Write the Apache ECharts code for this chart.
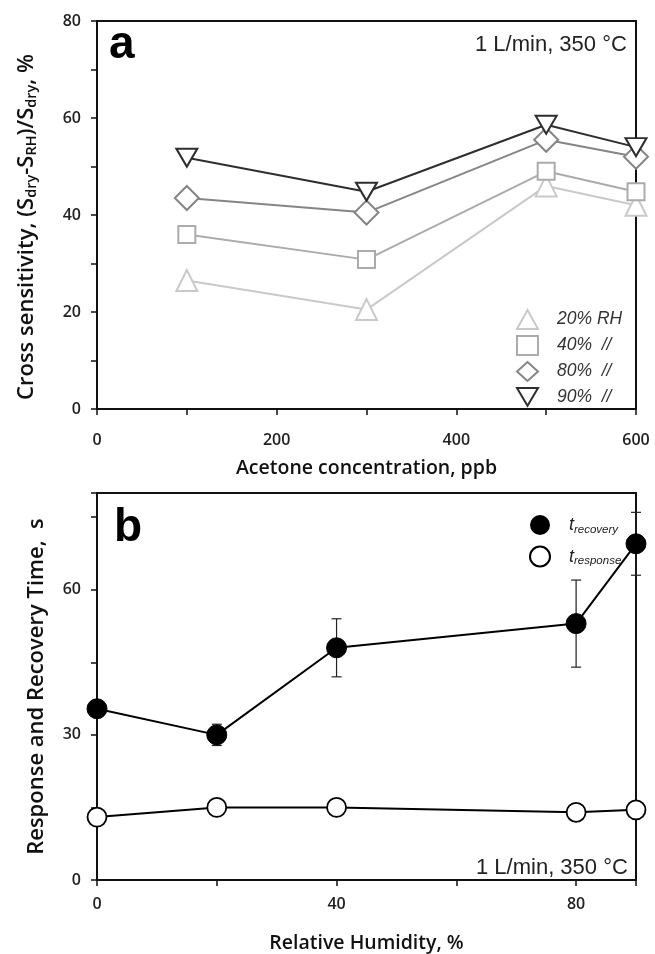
<!DOCTYPE html>
<html>
<head>
<meta charset="utf-8">
<script src="https://cdn.jsdelivr.net/npm/echarts@6/dist/echarts.min.js"></script>
<style>
  html, body { margin: 0; padding: 0; background: #fff; }
  #main { width: 655px; height: 954px; }
</style>
</head>
<body>
<div id="main"></div>
<script>
// panel a: cross sensitivity vs acetone
var acetone = [100, 300, 500, 600];
var rh20 = [26.5, 20.5, 46, 42];
var rh40 = [36, 30.8, 49, 44.8];
var rh80 = [43.5, 40.5, 55.5, 52];
var rh90 = [51.8, 44.8, 58.6, 54];

// panel b: response / recovery time vs humidity
var humidity = [0, 20, 40, 80, 90];
var tRecovery = [35.4, 30, 48, 53, 69.5];
var tRecoveryErr = [0, 2.2, 6, 9, 6.5];
var tResponse = [13, 15, 15, 14, 14.5];

function pairs(xs, ys) {
  return xs.map(function (x, i) { return [x, ys[i]]; });
}

var downTri = 'path://M0,0 L20,0 L10,17 Z';

var chart = echarts.init(document.getElementById('main'));

var labelFont = { fontFamily: 'Open Sans', fontWeight: 600, fontSize: 16, color: '#222' };
var nameFont = { fontFamily: 'Open Sans', fontWeight: 600, fontSize: 19.5, color: '#111' };
var yNameFont = { fontFamily: 'Open Sans', fontWeight: 600, fontSize: 22, color: '#111' };

var axisCommon = {
  axisLine: { lineStyle: { color: '#111', width: 2 } },
  axisTick: { lineStyle: { color: '#111', width: 1.5 }, length: 6 },
  splitLine: { show: false }
};

function grayLine(name, data, color, symbol, size) {
  return {
    name: name,
    type: 'line',
    xAxisIndex: 0,
    yAxisIndex: 0,
    data: data,
    symbol: symbol,
    symbolSize: size,
    lineStyle: { color: color, width: 2 },
    itemStyle: { color: '#fff', borderColor: color, borderWidth: 2 },
    z: 3
  };
}

var bigLetter = { fontFamily: 'Liberation Sans', fontWeight: 'bold', fontSize: 46, color: '#000' };
var noteFont = { fontFamily: 'Liberation Sans', fontWeight: 'normal', fontSize: 22, color: '#222' };

var option = {
  animation: false,
  backgroundColor: '#fff',
  grid: [
    { left: 97, top: 21, width: 539, height: 388, show: true, borderColor: '#111', borderWidth: 2 },
    { left: 97, top: 493, width: 539, height: 389, show: true, borderColor: '#111', borderWidth: 2 }
  ],
  title: [
    { text: 'a', left: 104, top: 17, textStyle: bigLetter },
    { text: '1 L/min, 350 °C', left: 470, top: 29, textStyle: noteFont },
    { text: 'b', left: 109, top: 500, textStyle: bigLetter },
    { text: '1 L/min, 350 °C', left: 471, top: 852, textStyle: noteFont }
  ],
  legend: [
    {
      orient: 'vertical',
      left: 511,
      top: 304,
      itemWidth: 21,
      itemHeight: 19,
      itemGap: 5,
      data: [
        { name: '20% RH', icon: 'triangle' },
        { name: '40%  //', icon: 'rect' },
        { name: '80%  //', icon: 'diamond' },
        { name: '90%  //', icon: downTri }
      ],
      textStyle: { fontFamily: 'Liberation Sans', fontStyle: 'italic', fontSize: 17.5, color: '#333', padding: [0, 0, 0, 14] }
    },
    {
      orient: 'vertical',
      left: 524,
      top: 510,
      itemWidth: 20,
      itemHeight: 20,
      itemGap: 10,
      data: [
        { name: 'recovery', icon: 'circle' },
        { name: 'response', icon: 'circle' }
      ],
      formatter: function (name) { return '{t|t}{s|' + name + '}'; },
      textStyle: {
        fontFamily: 'Liberation Sans', fontStyle: 'italic', color: '#222', padding: [0, 0, 0, 14],
        rich: {
          t: { fontSize: 18, fontStyle: 'italic', fontFamily: 'Liberation Sans', color: '#222' },
          s: { fontSize: 11.5, fontStyle: 'italic', fontFamily: 'Liberation Sans', color: '#222', verticalAlign: 'bottom', padding: [9, 0, 0, 0] }
        }
      }
    }
  ],
  xAxis: [
    Object.assign({}, axisCommon, {
      gridIndex: 0,
      type: 'value',
      min: 0,
      max: 600,
      interval: 100,
      axisLabel: Object.assign({}, labelFont, {
        margin: 23,
        formatter: function (v) { return v % 200 === 0 ? v : ''; }
      }),
      name: 'Acetone concentration, ppb',
      nameLocation: 'middle',
      nameGap: 49,
      nameTextStyle: nameFont
    }),
    Object.assign({}, axisCommon, {
      gridIndex: 1,
      type: 'value',
      min: 0,
      max: 90,
      interval: 20,
      axisLabel: Object.assign({}, labelFont, {
        margin: 16,
        formatter: function (v) { return v % 40 === 0 ? v : ''; }
      }),
      name: 'Relative Humidity, %',
      nameLocation: 'middle',
      nameGap: 53,
      nameTextStyle: nameFont
    })
  ],
  yAxis: [
    Object.assign({}, axisCommon, {
      gridIndex: 0,
      type: 'value',
      min: 0,
      max: 80,
      interval: 10,
      axisLabel: Object.assign({}, labelFont, {
        margin: 16,
        formatter: function (v) { return v % 20 === 0 ? v : ''; }
      }),
      name: 'Cross sensitivity, (S{sub|dry}-S{sub|RH})/S{sub|dry}, %',
      nameLocation: 'middle',
      nameGap: 58,
      nameTextStyle: Object.assign({}, yNameFont, {
        padding: [0, 24, 0, 0],
        rich: {
          sub: { fontFamily: 'Open Sans', fontWeight: 600, fontSize: 14.5, color: '#111', verticalAlign: 'bottom', padding: [10, 0, 0, 0] }
        }
      })
    }),
    Object.assign({}, axisCommon, {
      gridIndex: 1,
      type: 'value',
      min: 0,
      max: 80,
      interval: 15,
      axisLabel: Object.assign({}, labelFont, {
        margin: 16,
        formatter: function (v) { return v % 30 === 0 ? v : ''; }
      }),
      name: 'Response and Recovery Time,  s',
      nameLocation: 'middle',
      nameGap: 49,
      nameTextStyle: yNameFont
    })
  ],
  series: [
    grayLine('20% RH', pairs(acetone, rh20), '#c9c9c9', 'triangle', 21),
    grayLine('40%  //', pairs(acetone, rh40), '#ababab', 'rect', 17),
    grayLine('80%  //', pairs(acetone, rh80), '#858585', 'diamond', 24),
    grayLine('90%  //', pairs(acetone, rh90), '#2e2e2e', downTri, [21, 18]),
    {
      type: 'custom',
      xAxisIndex: 1,
      yAxisIndex: 1,
      data: humidity.map(function (x, i) { return [x, tRecovery[i] - tRecoveryErr[i], tRecovery[i] + tRecoveryErr[i]]; }),
      renderItem: function (params, api) {
        var lo = api.coord([api.value(0), api.value(1)]);
        var hi = api.coord([api.value(0), api.value(2)]);
        var w = 5;
        var st = { stroke: '#222', lineWidth: 1.2 };
        return {
          type: 'group',
          children: [
            { type: 'line', shape: { x1: lo[0], y1: lo[1], x2: hi[0], y2: hi[1] }, style: st },
            { type: 'line', shape: { x1: lo[0] - w, y1: lo[1], x2: lo[0] + w, y2: lo[1] }, style: st },
            { type: 'line', shape: { x1: hi[0] - w, y1: hi[1], x2: hi[0] + w, y2: hi[1] }, style: st }
          ]
        };
      },
      clip: false,
      z: 2
    },
    {
      name: 'recovery',
      type: 'line',
      xAxisIndex: 1,
      yAxisIndex: 1,
      data: pairs(humidity, tRecovery),
      symbol: 'circle',
      symbolSize: 20,
      lineStyle: { color: '#000', width: 2 },
      itemStyle: { color: '#000', borderColor: '#000' },
      z: 3
    },
    {
      name: 'response',
      type: 'line',
      xAxisIndex: 1,
      yAxisIndex: 1,
      data: pairs(humidity, tResponse),
      symbol: 'circle',
      symbolSize: 19,
      lineStyle: { color: '#000', width: 2 },
      itemStyle: { color: '#fff', borderColor: '#000', borderWidth: 1.8 },
      z: 3
    }
  ]
};

chart.setOption(option);
</script>
</body>
</html>
